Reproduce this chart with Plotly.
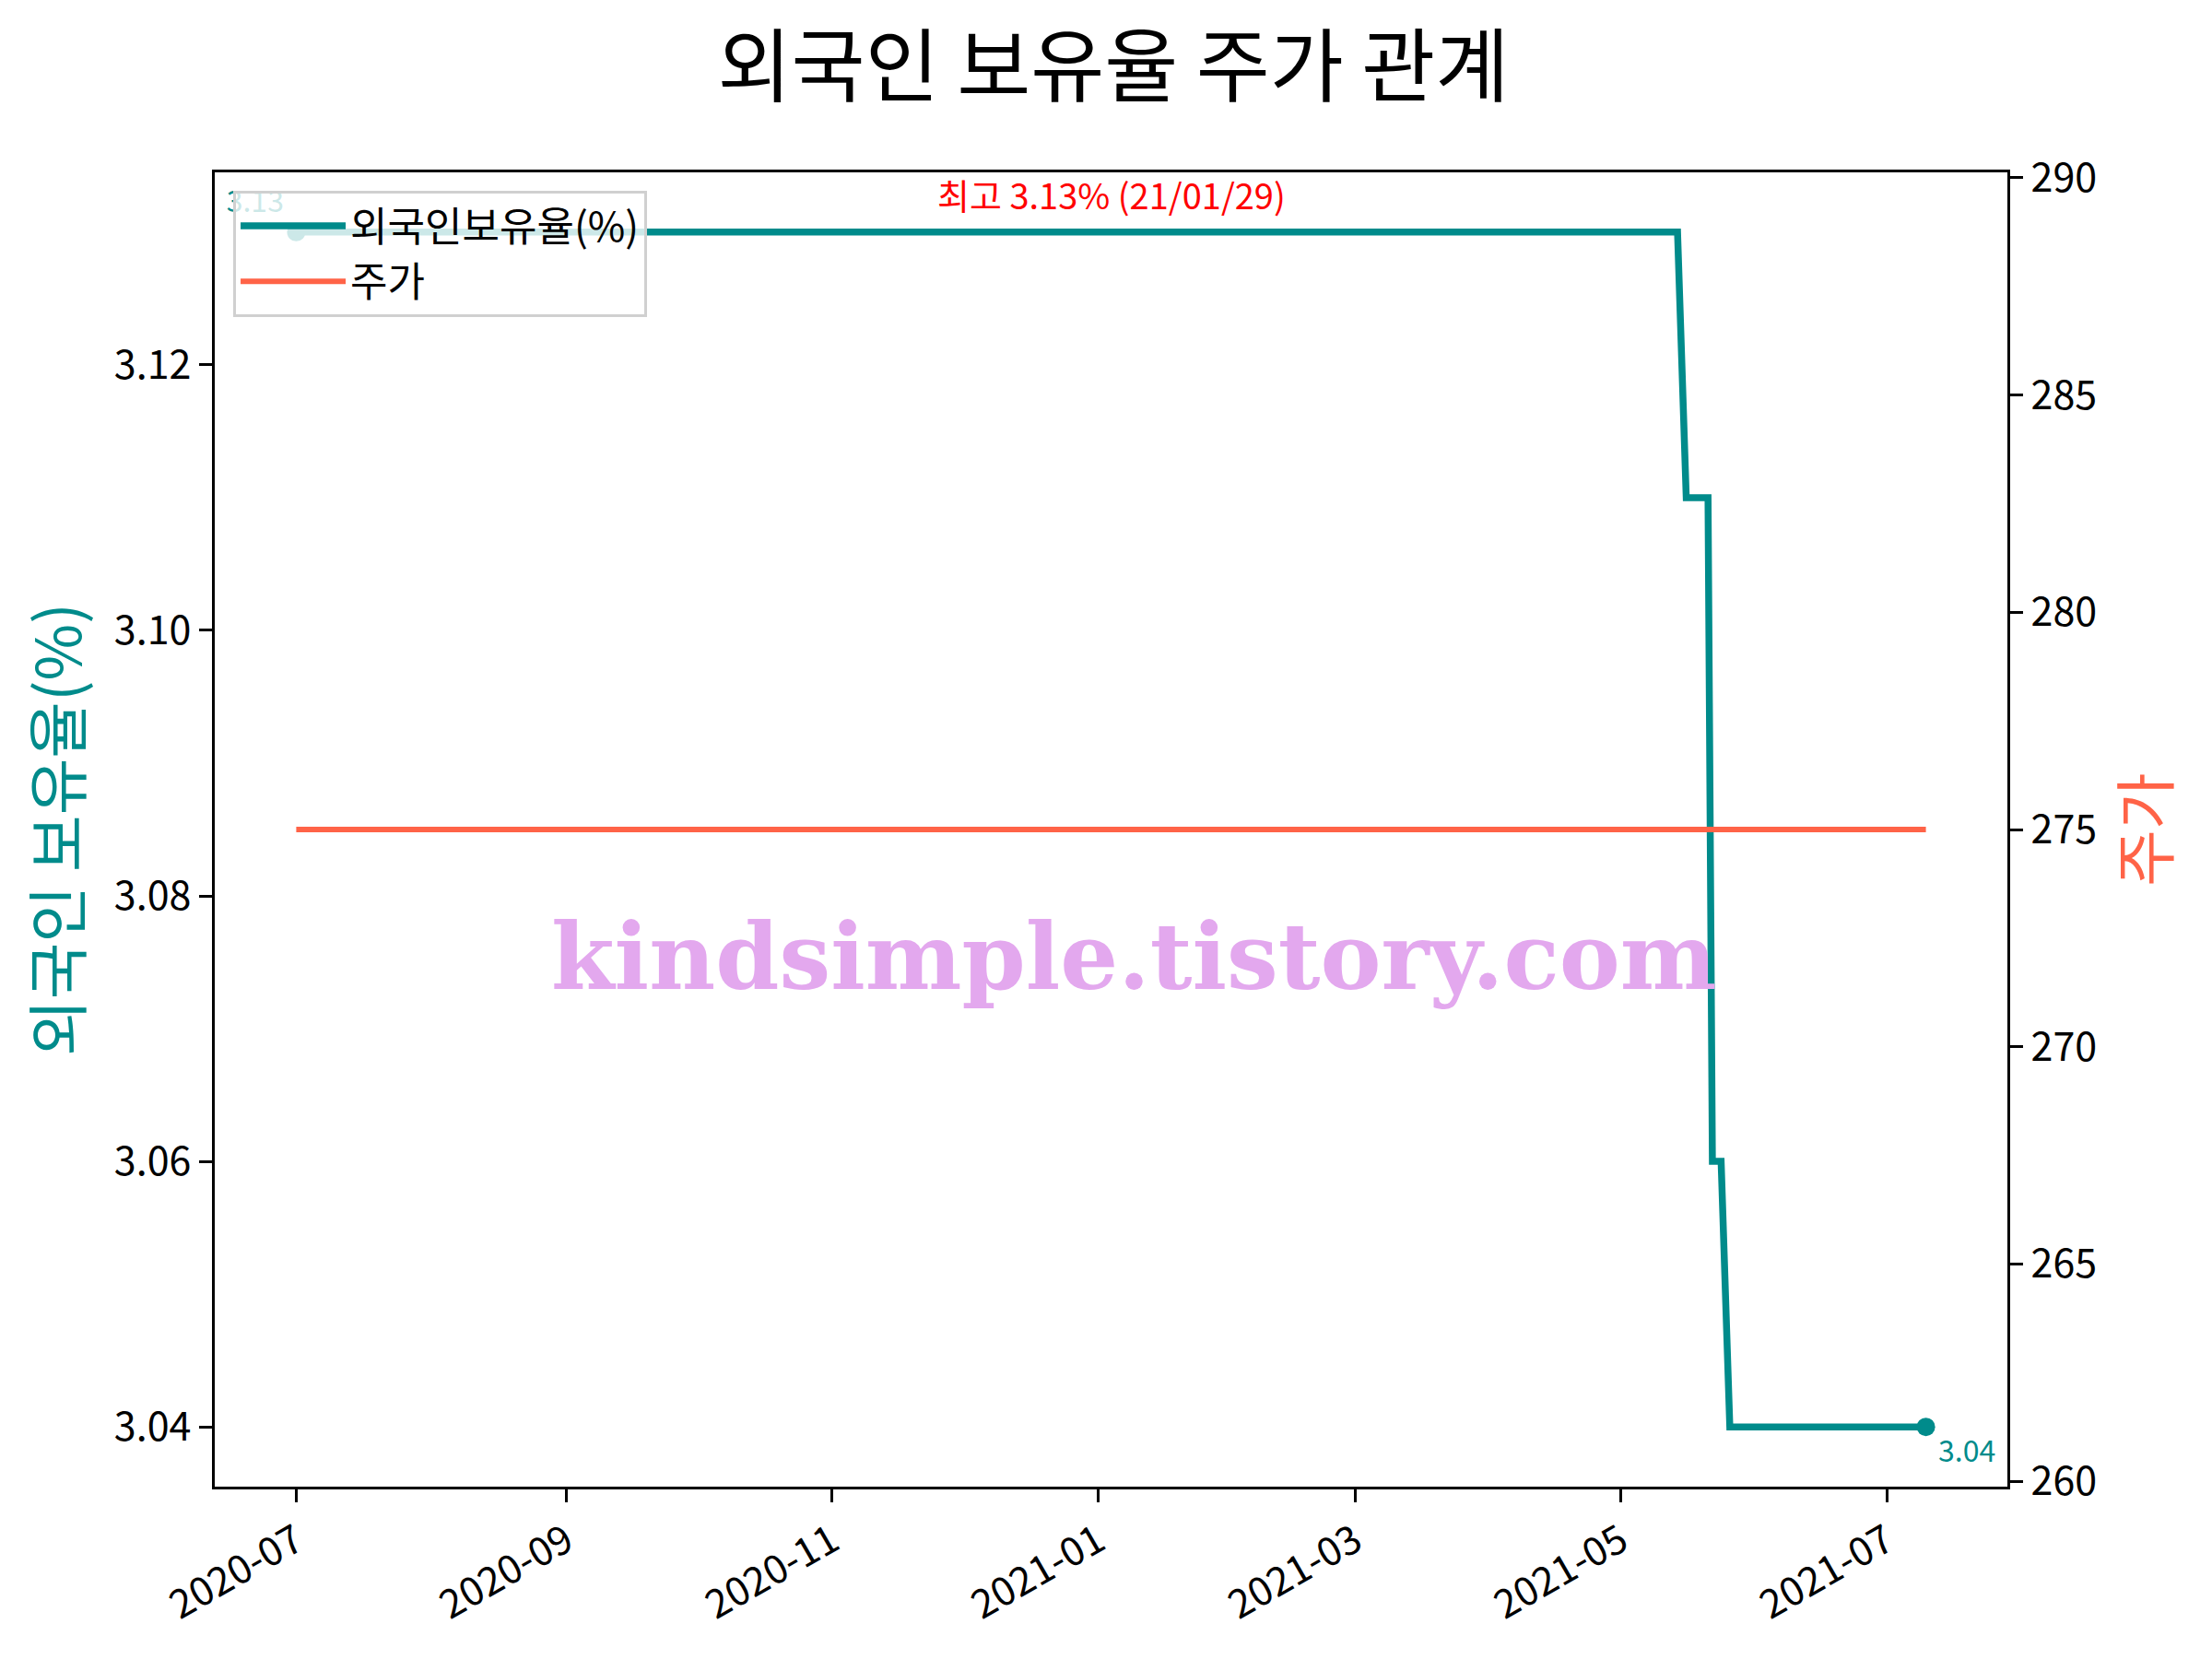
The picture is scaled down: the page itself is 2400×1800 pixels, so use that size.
import pandas as pd
import plotly.graph_objects as go

# ---- data ----
ratio_dates = ["2020-07-01", "2021-05-14", "2021-05-16", "2021-05-21",
               "2021-05-22", "2021-05-24", "2021-05-26", "2021-07-10"]
ratio_values = [3.13, 3.13, 3.11, 3.11, 3.06, 3.06, 3.04, 3.04]

price_dates = ["2020-07-01", "2021-07-10"]
price_values = [275, 275]

title_text = "외국인 보유율 주가 관계"
max_label = "최고 3.13% (21/01/29)"
watermark = "kindsimple.tistory.com"

TEAL = "#008B8B"
TOMATO = "#FF6347"
FONT = "Noto Sans CJK KR"

# ---- derived ranges (matplotlib-like 5% margins) ----
d = pd.to_datetime(ratio_dates)
span = d.max() - d.min()
x_range = [d.min() - span * 0.05, d.max() + span * 0.05]

ymin, ymax = min(ratio_values), max(ratio_values)
pad = (ymax - ymin) * 0.05
y_range = [ymin - pad, ymax + pad]

pv = price_values[0]
lo, hi = pv - abs(pv) * 0.05, pv + abs(pv) * 0.05
pad2 = (hi - lo) * 0.05
y2_range = [lo - pad2, hi + pad2]

fig = go.Figure()

fig.add_trace(go.Scatter(
    x=ratio_dates, y=ratio_values, mode="lines", name="외국인보유율(%)",
    line=dict(color=TEAL, width=7.5), yaxis="y"))

fig.add_trace(go.Scatter(
    x=[ratio_dates[0], ratio_dates[-1]], y=[ratio_values[0], ratio_values[-1]],
    mode="markers+text", showlegend=False,
    text=[f"{ratio_values[0]:.2f}", f"{ratio_values[-1]:.2f}"],
    textposition=["top left", "bottom right"],
    textfont=dict(family=FONT, size=32, color=TEAL),
    marker=dict(color=TEAL, size=20), yaxis="y"))

fig.add_trace(go.Scatter(
    x=price_dates, y=price_values, mode="lines", name="주가",
    line=dict(color=TOMATO, width=6), yaxis="y2"))

axis_common = dict(showline=True, linecolor="black", linewidth=3,
                   ticks="outside", ticklen=14, tickwidth=3, tickcolor="black",
                   showgrid=False, zeroline=False,
                   tickfont=dict(family=FONT, size=43, color="black"))

fig.update_layout(
    width=2400, height=1800,
    margin=dict(l=225, r=230, t=179, b=195),
    paper_bgcolor="white", plot_bgcolor="white",
    font=dict(family=FONT, color="black"),
    title=dict(text=title_text, x=0.5, xref="container", xanchor="center",
               y=1 - 66 / 1800, yref="container", yanchor="middle",
               font=dict(family=FONT, size=87, color="black")),
    xaxis=dict(type="date", range=x_range, dtick="M2", tick0="2020-07-01",
               tickformat="%Y-%m", tickangle=-30, mirror=True, **axis_common),
    yaxis=dict(range=y_range, dtick=0.02, tick0=3.04, tickformat=".2f",
               mirror=True,
               title=dict(text="외국인 보유율(%)", standoff=14,
                          font=dict(family=FONT, size=67, color=TEAL)),
               **axis_common),
    yaxis2=dict(range=y2_range, dtick=5, tick0=260, overlaying="y", side="right",
                title=dict(text="주가", standoff=16,
                           font=dict(family=FONT, size=67, color=TOMATO)),
                **axis_common),
    legend=dict(x=0.0103, y=0.986, xanchor="left", yanchor="top",
                bgcolor="rgba(255,255,255,0.8)", bordercolor="#d0d0d0",
                borderwidth=3, itemwidth=114,
                font=dict(family=FONT, size=44, color="black"),
                traceorder="normal"),
    showlegend=True,
)

fig.add_annotation(
    text=max_label, xref="paper", x=0.5, yref="y", y=ymax,
    xanchor="center", yanchor="bottom", yshift=12, showarrow=False,
    font=dict(family=FONT, size=38, color="red"))

fig.add_annotation(
    text=watermark, xref="paper", x=0.5125, yref="paper", y=0.403,
    xanchor="center", yanchor="middle", showarrow=False,
    font=dict(family="DejaVu Serif", size=99, color="#E3A8EE", weight="bold"))

fig.write_html("out.html")
